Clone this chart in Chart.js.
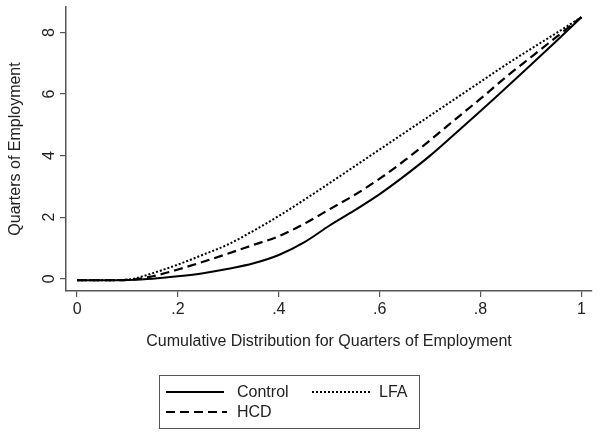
<!DOCTYPE html>
<html>
<head>
<meta charset="utf-8">
<script src="https://cdn.jsdelivr.net/npm/chart.js@4"></script>
<style>
    html, body { margin: 0; padding: 0; background: #fff; }
    #wrap { width: 600px; height: 436px; position: relative; }
</style>
</head>
<body>
<div id="wrap"><canvas id="chart"></canvas></div>
<script>
// cumulative distribution points (x) and quarters of employment for each group
const cumShare = [0, 0.05, 0.1, 0.15, 0.2, 0.25, 0.3, 0.35, 0.4, 0.45, 0.5,
    0.55, 0.6, 0.65, 0.7, 0.75, 0.8, 0.85, 0.9, 0.95, 1];
const controlQuarters = [-0.05, -0.05, -0.04, 0.0, 0.08, 0.18, 0.32, 0.5, 0.77, 1.18, 1.72,
    2.22, 2.75, 3.35, 4.0, 4.72, 5.45, 6.2, 6.95, 7.72, 8.5];
const hcdQuarters = [-0.05, -0.05, -0.04, 0.08, 0.3, 0.55, 0.82, 1.1, 1.38, 1.78, 2.25,
    2.72, 3.25, 3.85, 4.5, 5.18, 5.85, 6.55, 7.2, 7.85, 8.5];
const lfaQuarters = [-0.05, -0.05, -0.03, 0.18, 0.46, 0.78, 1.12, 1.56, 2.04, 2.56, 3.1,
    3.65, 4.2, 4.75, 5.3, 5.85, 6.4, 6.95, 7.47, 7.98, 8.5];

const xTicks = [0, 0.2, 0.4, 0.6, 0.8, 1];
const yTicks = [0, 2, 4, 6, 8];

const FONT = '"Liberation Sans", Arial, sans-serif';
const TEXT = '#222';
const AXIS = '#555';

function toPoints(values) {
    return cumShare.map((x, i) => ({ x: x, y: values[i] }));
}

function series(label, values, dash, width) {
    return {
        label: label,
        data: toPoints(values),
        borderColor: '#000',
        borderWidth: width,
        borderDash: dash,
        pointRadius: 0,
        fill: false,
        cubicInterpolationMode: 'monotone'
    };
}

// y tick labels read bottom-to-top, Stata style
const sidewaysYLabels = {
    id: 'sidewaysYLabels',
    afterDraw(chart) {
        const ctx = chart.ctx;
        const y = chart.scales.y;
        ctx.save();
        ctx.font = '16px ' + FONT;
        ctx.fillStyle = TEXT;
        ctx.textAlign = 'center';
        ctx.textBaseline = 'alphabetic';
        yTicks.forEach(v => {
            ctx.save();
            ctx.translate(53.5, y.getPixelForValue(v));
            ctx.rotate(-Math.PI / 2);
            ctx.fillText(String(v), 0, 0);
            ctx.restore();
        });
        ctx.restore();
    }
};

// legend in a box below the plot, two columns like the original
const boxLegend = {
    id: 'boxLegend',
    afterDraw(chart) {
        const ctx = chart.ctx;
        const ds = chart.data.datasets;
        ctx.save();
        ctx.strokeStyle = AXIS;
        ctx.lineWidth = 1;
        ctx.strokeRect(159.5, 375.5, 260, 53);

        const slots = [
            { x: 166, y: 392, len: 58, tx: 237 },
            { x: 312, y: 392, len: 60, tx: 379 },
            { x: 166, y: 412, len: 61, tx: 237 }
        ];
        ctx.font = '16px ' + FONT;
        ctx.textBaseline = 'middle';
        ds.forEach((d, i) => {
            const s = slots[i];
            ctx.beginPath();
            ctx.setLineDash(d.borderDash);
            ctx.strokeStyle = '#000';
            ctx.lineWidth = d.borderWidth;
            ctx.moveTo(s.x, s.y);
            ctx.lineTo(s.x + s.len, s.y);
            ctx.stroke();
            ctx.setLineDash([]);
            ctx.fillStyle = TEXT;
            ctx.fillText(d.label, s.tx, s.y + 1);
        });
        ctx.restore();
    }
};

new Chart(document.getElementById('chart'), {
    type: 'line',
    data: {
        datasets: [
            series('Control', controlQuarters, [], 2),
            series('LFA', lfaQuarters, [2, 2], 2),
            series('HCD', hcdQuarters, [9, 5], 2.2)
        ]
    },
    options: {
        responsive: true,
        maintainAspectRatio: false,
        animation: false,
        layout: { padding: { top: 7, right: 8, bottom: 85, left: 0 } },
        plugins: {
            legend: { display: false },
            tooltip: { enabled: false }
        },
        scales: {
            x: {
                type: 'linear',
                min: -0.022,
                max: 1.021,
                afterBuildTicks: (scale) => { scale.ticks = xTicks.map(v => ({ value: v })); },
                afterFit: (scale) => { scale.height = 60; },
                border: { display: true, color: AXIS, width: 1.5 },
                grid: { display: true, drawOnChartArea: false, drawTicks: true, tickLength: 6, color: AXIS, lineWidth: 1.2 },
                ticks: {
                    color: TEXT,
                    padding: 3,
                    maxRotation: 0,
                    font: { family: FONT, size: 16 },
                    callback: (v) => v === 0 ? '0' : v === 1 ? '1' : String(v).replace(/^0/, '')
                },
                title: {
                    display: true,
                    text: 'Cumulative Distribution for Quarters of Employment',
                    color: TEXT,
                    font: { family: FONT, size: 16 },
                    padding: { top: 3, bottom: 0 }
                }
            },
            y: {
                type: 'linear',
                min: -0.4,
                max: 8.83,
                afterBuildTicks: (scale) => { scale.ticks = yTicks.map(v => ({ value: v })); },
                afterFit: (scale) => { scale.width = 66; },
                border: { display: true, color: AXIS, width: 1.5 },
                grid: { display: true, drawOnChartArea: false, drawTicks: true, tickLength: 6, color: AXIS, lineWidth: 1.2 },
                ticks: { display: false },
                title: {
                    display: true,
                    text: 'Quarters of Employment',
                    color: TEXT,
                    font: { family: FONT, size: 16 },
                    padding: { top: 6, bottom: 0 }
                }
            }
        }
    },
    plugins: [sidewaysYLabels, boxLegend]
});
</script>
</body>
</html>
